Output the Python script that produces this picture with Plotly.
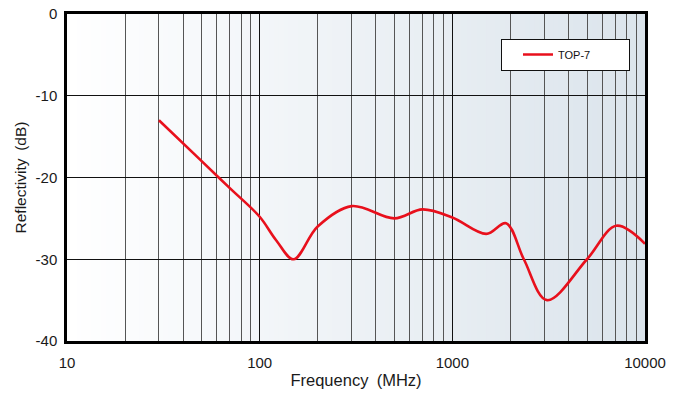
import plotly.graph_objects as go

# Data
freq_mhz = [30, 50, 70, 100, 122, 150, 200, 300, 500, 700, 1000, 1500, 1900, 2350, 3100, 5000, 7100, 10000]
reflectivity_db = [-13.0, -18.0, -21.3, -24.8, -27.7, -30.0, -26.0, -23.5, -25.0, -23.9, -24.9, -26.9, -25.6, -30.0, -35.0, -30.0, -25.9, -28.1]
series_name = "TOP-7"
x_tick_vals = [10, 100, 1000, 10000]
x_tick_text = ["10", "100", "1000", "10000"]
y_tick_vals = [0, -10, -20, -30, -40]
y_tick_text = ["0", "-10", "-20", "-30", "-40"]

fig = go.Figure()
fig.add_trace(go.Scatter(
    x=freq_mhz, y=reflectivity_db, mode="lines", name=series_name,
    line=dict(color="#e8101c", width=2.6, shape="spline", smoothing=1.0),
))

# gradient background strips (white -> light blue-grey)
stops = [(0.0, (255, 255, 255)), (0.33, (243, 246, 249)), (0.67, (231, 237, 242)), (1.0, (219, 228, 236))]
def col(t):
    for (t0, c0), (t1, c1) in zip(stops[:-1], stops[1:]):
        if t0 <= t <= t1:
            u = (t - t0) / (t1 - t0)
            return "rgb(%d,%d,%d)" % tuple(round(a + (b - a) * u) for a, b in zip(c0, c1))
    return "rgb(%d,%d,%d)" % stops[-1][1]

N = 120
shapes = []
for i in range(N):
    shapes.append(dict(type="rect", xref="x domain", yref="y domain",
                       x0=i / N, x1=(i + 1.6) / N if i < N - 1 else 1, y0=0, y1=1,
                       fillcolor=col((i + 0.5) / N), line=dict(width=0), layer="below"))

font = "Liberation Sans, Arial, sans-serif"
fig.update_layout(
    width=676, height=394,
    margin=dict(l=67, r=31, t=14, b=53, autoexpand=False),
    paper_bgcolor="white", plot_bgcolor="white",
    shapes=shapes,
    font=dict(family=font, color="#1a1a1a"),
    showlegend=True,
    legend=dict(x=0.7505, y=0.924, xanchor="left", yanchor="top",
                bgcolor="white", bordercolor="#111", borderwidth=1.2,
                font=dict(size=11, family=font, color="#111"),
                orientation="h", entrywidth=65, itemwidth=30, indentation=16,
                tracegroupgap=0),
    xaxis=dict(type="log", range=[1, 4], tickvals=x_tick_vals, ticktext=x_tick_text,
               automargin=False,
               showgrid=True, gridcolor="#111", gridwidth=1,
               minor=dict(showgrid=True, gridcolor="#555", gridwidth=1.2, dtick="D1", ticks=""),
               showline=True, linecolor="black", linewidth=2.5, mirror=True,
               ticks="", tickfont=dict(size=15), ticklabelstandoff=6,
               title=dict(text="Frequency\u2002(MHz)", font=dict(size=16.5), standoff=5),
               zeroline=False),
    yaxis=dict(range=[-40, 0], tickvals=y_tick_vals, ticktext=y_tick_text,
               automargin=False,
               showgrid=True, gridcolor="#111", gridwidth=1,
               showline=True, linecolor="black", linewidth=2.5, mirror=True,
               ticks="", tickfont=dict(size=15), ticklabelstandoff=4,
               title=dict(text="Reflectivity\u2002(dB)", font=dict(size=15.5), standoff=6),
               zeroline=False),
)

fig.write_html("out.html")
